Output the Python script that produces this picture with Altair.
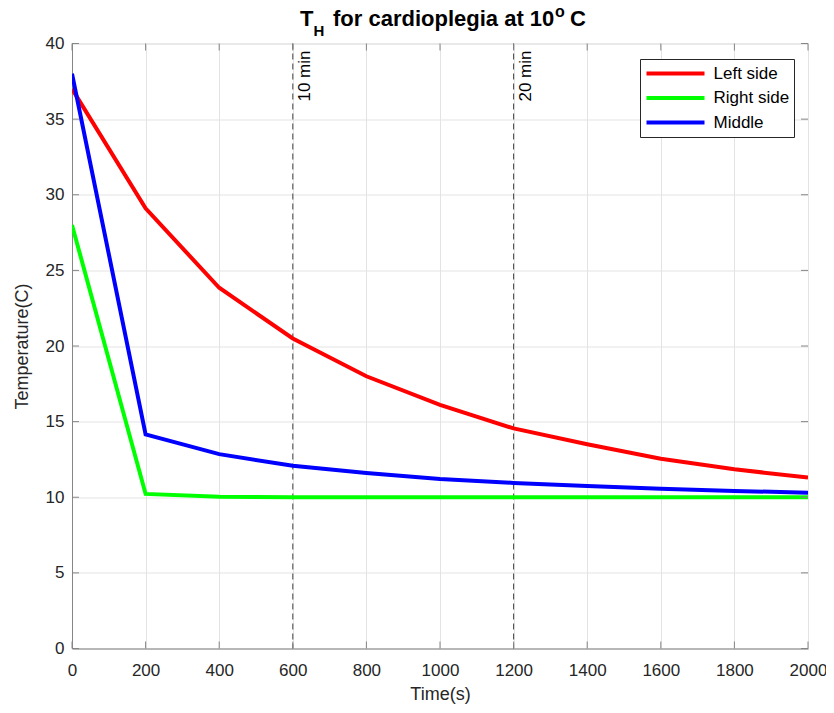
import altair as alt
import pandas as pd

# ---- data ----
time_s = [0, 200, 400, 600, 800, 1000, 1200, 1400, 1600, 1800, 2000]
left_side = [37.0, 29.1, 23.85, 20.5, 18.0, 16.1, 14.55, 13.5, 12.55, 11.85, 11.3]
right_side = [28.0, 10.22, 10.04, 10.0, 10.0, 10.0, 10.0, 10.0, 10.0, 10.0, 10.0]
middle = [38.0, 14.15, 12.85, 12.08, 11.6, 11.2, 10.95, 10.75, 10.57, 10.42, 10.3]
series_names = ["Left side", "Right side", "Middle"]
series_colors = ["#ff0000", "#00ff00", "#0000ff"]
x_ticks = [0, 200, 400, 600, 800, 1000, 1200, 1400, 1600, 1800, 2000]
y_ticks = [0, 5, 10, 15, 20, 25, 30, 35, 40]
marker_times = [600, 1200]
marker_labels = ["10 min", "20 min"]

rows = []
for name, vals in zip(series_names, [left_side, right_side, middle]):
    for t, v in zip(time_s, vals):
        rows.append({"Time": t, "Temp": v, "Series": name})
df = pd.DataFrame(rows)
markers_df = pd.DataFrame({"Time": marker_times, "label": marker_labels})
xt_df = pd.DataFrame({"Time": x_ticks})
yt_df = pd.DataFrame({"Temp": y_ticks})

W, H = 736, 605
FONT = "Liberation Sans"
AX = "#868686"
TXT = "#262626"
xs = alt.Scale(domain=[0, 2000], nice=False, zero=False)
ys = alt.Scale(domain=[0, 40], nice=False, zero=False)

x_axis = alt.Axis(
    title="Time(s)", values=x_ticks, format="d", grid=True, gridColor="#e3e3e3",
    ticks=False, tickSize=0, domainColor=AX, labelFont=FONT, labelFontSize=17,
    labelColor=TXT, labelPadding=14, labelFlush=False, titleFont=FONT, titleFontSize=18,
    titleFontWeight="normal", titleColor=TXT, titlePadding=7)
y_axis = alt.Axis(
    title="Temperature(C)", values=y_ticks, format="d", grid=True, gridColor="#e3e3e3",
    ticks=False, tickSize=0, domainColor=AX, labelFont=FONT, labelFontSize=17,
    labelColor=TXT, labelPadding=8, labelFlush=False, titleFont=FONT, titleFontSize=18,
    titleFontWeight="normal", titleColor=TXT, titlePadding=14)

X = alt.X("Time:Q", scale=xs, axis=x_axis)
Y = alt.Y("Temp:Q", scale=ys, axis=y_axis)

lines = alt.Chart(df).mark_line(strokeWidth=4, clip=True).encode(
    x=X, y=Y,
    color=alt.Color("Series:N", sort=series_names,
                    scale=alt.Scale(domain=series_names, range=series_colors),
                    legend=alt.Legend(
                        title=None, orient="none", legendX=568, legendY=15.5,
                        symbolType="stroke", symbolSize=3364, symbolStrokeWidth=4,
                        clipHeight=20, labelFont=FONT, labelFontSize=17,
                        labelColor="#000000", labelOffset=7, strokeColor="#262626",
                        fillColor="#ffffff", padding=4.5, rowPadding=4.5)),
)

vrules = alt.Chart(markers_df).mark_rule(color="#444444", strokeDash=[6, 4], strokeWidth=1).encode(x=X)

vtext = alt.Chart(markers_df).mark_text(
    angle=270, align="right", baseline="top", dy=4, font=FONT, fontSize=17, color="#000000"
).encode(x=X, y=alt.value(7), text="label:N")

tick_len = 7
xb = alt.Chart(xt_df).mark_rule(color=AX).encode(x=X, y=alt.value(H), y2=alt.value(H - tick_len))
xtop = alt.Chart(xt_df).mark_rule(color=AX).encode(x=X, y=alt.value(0), y2=alt.value(tick_len))
yl = alt.Chart(yt_df).mark_rule(color=AX).encode(y=Y, x=alt.value(0), x2=alt.value(tick_len))
yr = alt.Chart(yt_df).mark_rule(color=AX).encode(y=Y, x=alt.value(W), x2=alt.value(W - tick_len))

one = pd.DataFrame({"a": [0]})
def piece(txt, x, y, size):
    return alt.Chart(one).mark_text(
        text=txt, align="left", baseline="alphabetic", font=FONT, fontSize=size,
        fontWeight="bold", color="#000000").encode(x=alt.value(x), y=alt.value(y))

title = (piece("T", 228, -18, 22) + piece("H", 241.5, -7.5, 15)
         + piece("for cardioplegia at 10", 261, -18, 22)
         + piece("o", 483, -26.5, 16) + piece("C", 498, -18, 22))

chart = alt.layer(vrules, lines, vtext, xb, xtop, yl, yr, title).properties(
    width=W, height=H,
    autosize=alt.AutoSizeParams(type="none"),
    padding={"left": 64, "top": 35.5, "right": 18, "bottom": 56.5},
).configure_view(stroke=AX, strokeWidth=1).configure(background="#ffffff")

chart.save("out.html", embed_options={"renderer": "svg", "actions": False})
